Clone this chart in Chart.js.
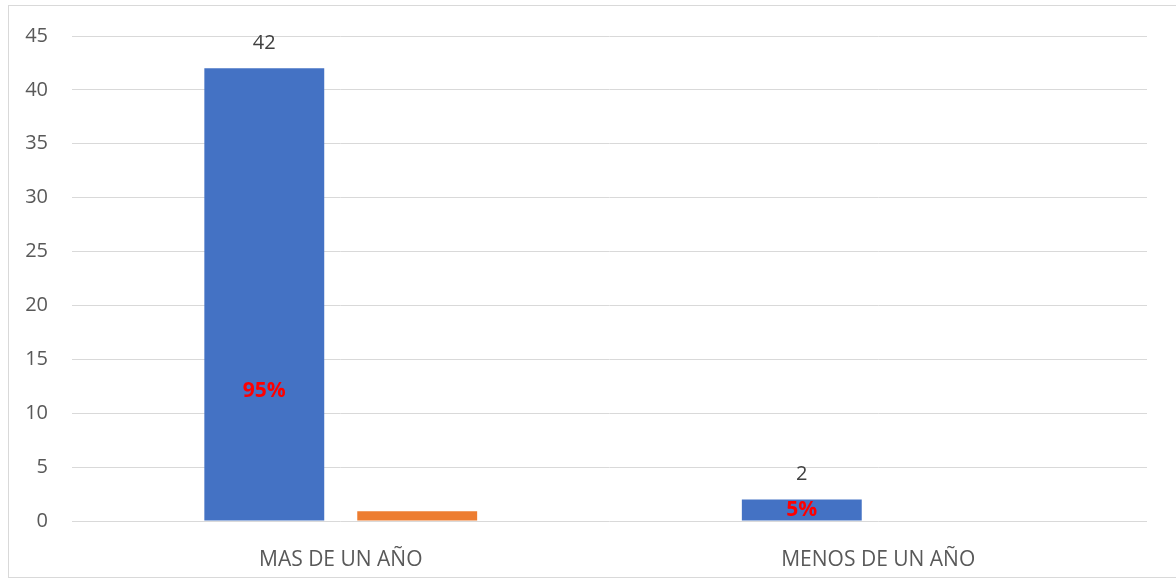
<!DOCTYPE html>
<html>
<head>
<meta charset="utf-8">
<script src="https://cdn.jsdelivr.net/npm/chart.js@4/dist/chart.umd.min.js"></script>
<style>
  html, body { margin: 0; padding: 0; background: #fff; }
  #wrap { position: relative; width: 1176px; height: 581px; }
  #frame { position: absolute; left: 8px; top: 5px; width: 1170px; height: 573px; border: 1px solid #D9D9D9; box-sizing: border-box; pointer-events: none; }
  canvas { position: absolute; left: 0; top: 0; }
</style>
</head>
<body>
<div id="wrap">
  <canvas id="c" width="1176" height="581"></canvas>
  <div id="frame"></div>
</div>
<script>
const categories = ["MAS DE UN AÑO", "MENOS DE UN AÑO"];
const countValues = [42, 2];
const shareValues = [0.9, 0];
const pctLabels = ["95%", "5%"];
const pctLabelAt = [12.1, 1];
const yTicks = [0, 5, 10, 15, 20, 25, 30, 35, 40, 45];

const labelPlugin = {
  id: 'labels',
  afterDatasetsDraw(chart) {
    const ctx = chart.ctx;
    const meta = chart.getDatasetMeta(0);
    const y = chart.scales.y;
    ctx.save();
    ctx.textAlign = 'center';
    ctx.textBaseline = 'middle';
    meta.data.forEach((bar, i) => {
      ctx.fillStyle = '#404040';
      ctx.font = '20px "Open Sans", "Liberation Sans", sans-serif';
      ctx.fillText(String(countValues[i]), bar.x, bar.y - 25);
      ctx.fillStyle = '#FF0000';
      ctx.font = 'bold 21px "Open Sans", "Liberation Sans", sans-serif';
      ctx.fillText(pctLabels[i], bar.x, y.getPixelForValue(pctLabelAt[i]));
    });
    ctx.restore();
  }
};

new Chart(document.getElementById('c'), {
  type: 'bar',
  data: {
    labels: categories,
    datasets: [
      { data: countValues, backgroundColor: '#4472C4', categoryPercentage: 0.569, barPercentage: 0.784 },
      { data: shareValues, backgroundColor: '#ED7D31', categoryPercentage: 0.569, barPercentage: 0.784 }
    ]
  },
  options: {
    responsive: false,
    animation: false,
    devicePixelRatio: 1,
    layout: { padding: { top: 35, right: 29, bottom: 0, left: 0 } },
    plugins: { legend: { display: false }, tooltip: { enabled: false } },
    scales: {
      x: {
        grid: { display: false },
        border: { display: false },
        ticks: { color: '#595959', padding: 18, font: { size: 21, family: '"Open Sans", "Liberation Sans", sans-serif' } },
        afterFit(axis) { axis.height = 60; }
      },
      y: {
        min: 0, max: 45,
        afterBuildTicks(axis) { axis.ticks = yTicks.map(v => ({ value: v })); },
        grid: { color: '#D9D9D9', lineWidth: 1, drawTicks: false },
        border: { display: false },
        ticks: { color: '#595959', padding: 24, font: { size: 20, family: '"Open Sans", "Liberation Sans", sans-serif' } },
        afterFit(axis) { axis.width = 72; }
      }
    }
  },
  plugins: [labelPlugin]
});
</script>
</body>
</html>
